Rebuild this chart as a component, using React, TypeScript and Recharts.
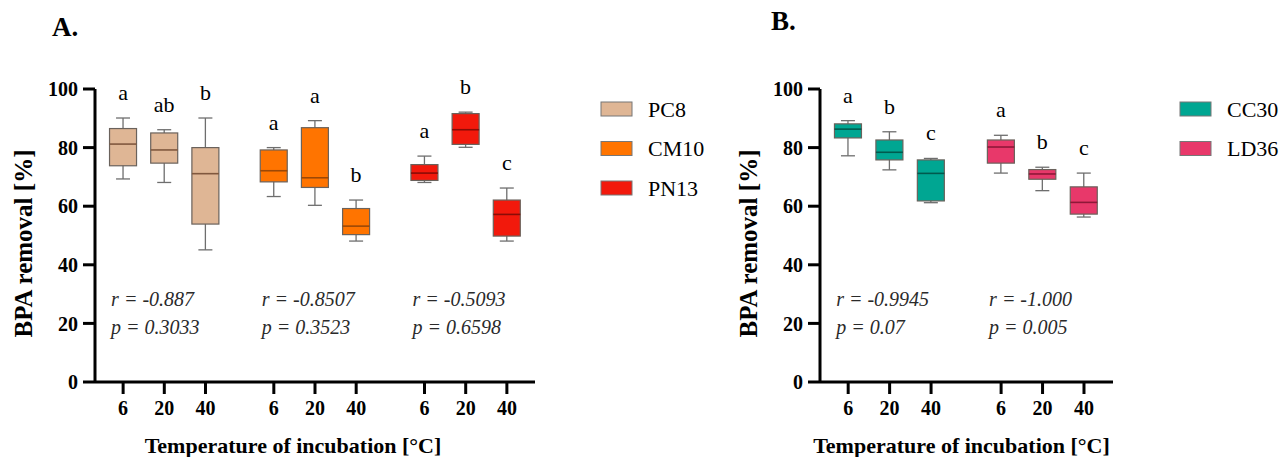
import { ComposedChart, Bar, Scatter, XAxis, YAxis, Label } from "recharts";

const FONT = "'Liberation Serif', 'DejaVu Serif', 'Times New Roman', Times, serif";

const temps = ["6", "20", "40"];

// Panel A
const strainsA = ["PC8", "CM10", "PN13"];
const fillA = ["#dfb695", "#ff7400", "#f2190c"];
const medianA = ["#80583e", "#9c4806", "#8a0c06"];
const minA = [69.3, 68.1, 45.1, 63.3, 60.3, 48.1, 68.1, 80.1, 48.1];
const q1A = [73.8, 74.7, 53.9, 68.3, 66.4, 50.3, 68.8, 81.1, 49.8];
const medA = [81.2, 79.2, 71.1, 72.1, 69.7, 53.2, 71.3, 86.1, 57.2];
const q3A = [86.5, 85.0, 80.0, 79.2, 86.8, 59.2, 74.2, 91.6, 62.1];
const maxA = [90.1, 86.1, 90.1, 80.0, 89.2, 62.1, 77.1, 92.1, 66.2];
const lettersA = ["a", "ab", "b", "a", "a", "b", "a", "b", "c"];
const rA = ["-0.887", "-0.8507", "-0.5093"];
const pA = ["0.3033", "0.3523", "0.6598"];

// Panel B
const strainsB = ["CC30", "LD36"];
const fillB = ["#00a692", "#e8386a"];
const medianB = ["#005a4e", "#8e1838"];
const minB = [77.2, 72.4, 61.2, 71.3, 65.3, 56.3];
const q1B = [83.3, 75.8, 61.8, 74.7, 69.2, 57.3];
const medB = [86.3, 78.4, 71.2, 80.2, 71.0, 61.3];
const q3B = [88.1, 82.6, 75.8, 82.6, 72.5, 66.6];
const maxB = [89.2, 85.4, 76.3, 84.2, 73.3, 71.3];
const lettersB = ["a", "b", "c", "a", "b", "c"];
const rB = ["-0.9945", "-1.000"];
const pB = ["0.07", "0.005"];

const yTicks = [0, 20, 40, 60, 80, 100];

type Row = {
  strain: string;
  group: number;
  temp: string;
  pos: number;
  min: number;
  q1: number;
  med: number;
  q3: number;
  max: number;
  letter: string;
};

function buildRows(
  strains: string[],
  step: number,
  mins: number[],
  q1s: number[],
  meds: number[],
  q3s: number[],
  maxs: number[],
  letters: string[]
): Row[] {
  const rows: Row[] = [];
  strains.forEach((s, g) => {
    temps.forEach((t, k) => {
      const i = g * temps.length + k;
      rows.push({
        strain: s,
        group: g,
        temp: t,
        pos: g * step + k,
        min: mins[i],
        q1: q1s[i],
        med: meds[i],
        q3: q3s[i],
        max: maxs[i],
        letter: letters[i],
      });
    });
  });
  return rows;
}

function buildNotes(strains: string[], step: number, rs: string[], ps: string[]) {
  return strains.map((s, g) => ({ pos: g * step, y: 26, r: rs[g], p: ps[g] }));
}

function BoxShape(props: any) {
  const { x, y, width, height, payload, fills, medians } = props;
  if (!payload || height == null) return null;
  const top = Math.min(y, y + height);
  const h = Math.abs(height);
  const { min, max, q1, q3, med, group, letter } = payload;
  const px = (v: number) => top + (h * (max - v)) / (max - min);
  const cx = x + width / 2;
  const cap = 7;
  return (
    <g>
      <line x1={cx} x2={cx} y1={px(max)} y2={px(min)} stroke="#6e6e6e" strokeWidth={1.3} />
      <line x1={cx - cap} x2={cx + cap} y1={px(max)} y2={px(max)} stroke="#6e6e6e" strokeWidth={1.3} />
      <line x1={cx - cap} x2={cx + cap} y1={px(min)} y2={px(min)} stroke="#6e6e6e" strokeWidth={1.3} />
      <rect
        x={x}
        y={px(q3)}
        width={width}
        height={px(q1) - px(q3)}
        fill={fills[group]}
        stroke="#6a625c"
        strokeWidth={1.2}
      />
      <line x1={x} x2={x + width} y1={px(med)} y2={px(med)} stroke={medians[group]} strokeWidth={1.6} />
      <text
        x={cx}
        y={px(max) - 18}
        textAnchor="middle"
        fontFamily={FONT}
        fontSize={22}
        fill="#000"
      >
        {letter}
      </text>
    </g>
  );
}

function NoteShape(props: any) {
  const { cx, cy, payload } = props;
  if (!payload) return null;
  const style = { fontFamily: FONT, fontSize: 20, fontStyle: "italic" as const, fill: "#2a2a2a" };
  return (
    <g>
      <text x={cx - 12} y={cy} {...style}>
        {`r = ${payload.r}`}
      </text>
      <text x={cx - 12} y={cy + 28} {...style}>
        {`p = ${payload.p}`}
      </text>
    </g>
  );
}

type PanelProps = {
  left: number;
  width: number;
  yAxisWidth: number;
  right: number;
  strains: string[];
  step: number;
  rows: Row[];
  notes: { pos: number; y: number; r: string; p: string }[];
  fills: string[];
  medians: string[];
  leftPad: number;
  rightPad: number;
  titleDx: number;
};

function Panel(p: PanelProps) {
  const n = p.strains.length;
  const lastPos = (n - 1) * p.step + temps.length - 1;
  const ticks = p.rows.map((r) => r.pos);
  return (
    <div style={{ position: "absolute", left: p.left, top: 0 }}>
      <ComposedChart
        width={p.width}
        height={457}
        data={p.rows}
        margin={{ top: 89, right: p.right, bottom: 14, left: 0 }}
      >
        <XAxis
          dataKey="pos"
          type="number"
          domain={[-p.leftPad, lastPos + p.rightPad]}
          ticks={ticks}
          tickFormatter={(_v: number, i: number) => temps[i % temps.length]}
          interval={0}
          height={61}
          axisLine={{ stroke: "#000", strokeWidth: 3 }}
          tickLine={{ stroke: "#000", strokeWidth: 3 }}
          tickSize={12}
          tickMargin={7}
          tick={{ fontFamily: FONT, fontSize: 20, fontWeight: "bold", fill: "#000" }}
        >
          <Label
            content={(lp: any) => {
              const vb = lp.viewBox || {};
              return (
                <text
                  x={vb.x + vb.width / 2 + p.titleDx}
                  y={vb.y + 71}
                  textAnchor="middle"
                  fontFamily={FONT}
                  fontSize={22}
                  fontWeight="bold"
                  fill="#000"
                >
                  Temperature of incubation [°C]
                </text>
              );
            }}
          />
        </XAxis>
        <YAxis
          type="number"
          domain={[0, 100]}
          ticks={yTicks}
          width={p.yAxisWidth}
          axisLine={{ stroke: "#000", strokeWidth: 3 }}
          tickLine={{ stroke: "#000", strokeWidth: 3 }}
          tickSize={12}
          tickMargin={5}
          tick={{ fontFamily: FONT, fontSize: 20, fontWeight: "bold", fill: "#000" }}
        >
          <Label
            content={(lp: any) => {
              const vb = lp.viewBox || {};
              const lx = vb.x + vb.width - 63;
              const ly = vb.y + vb.height / 2 + 8;
              return (
                <text
                  x={lx}
                  y={ly}
                  transform={`rotate(-90 ${lx} ${ly})`}
                  textAnchor="middle"
                  fontFamily={FONT}
                  fontSize={25}
                  fontWeight="bold"
                  fill="#000"
                >
                  BPA removal [%]
                </text>
              );
            }}
          />
        </YAxis>
        <Bar
          dataKey={(r: Row) => [r.min, r.max]}
          barSize={27}
          isAnimationActive={false}
          shape={(sp: any) => <BoxShape {...sp} fills={p.fills} medians={p.medians} />}
        />
        <Scatter
          data={p.notes}
          dataKey="y"
          isAnimationActive={false}
          shape={(sp: any) => <NoteShape {...sp} />}
        />
      </ComposedChart>
    </div>
  );
}

function Legend(props: { left: number; top: number; width: number; strains: string[]; fills: string[] }) {
  const pad = 12;
  return (
    <svg
      style={{ position: "absolute", left: props.left, top: props.top - pad }}
      width={props.width}
      height={props.strains.length * 40 + pad * 2}
    >
      {props.strains.map((s, i) => (
        <g key={s}>
          <rect
            x={1}
            y={pad + i * 39.5 + 1}
            width={31}
            height={14}
            fill={props.fills[i]}
            stroke="#777"
            strokeWidth={1}
          />
          <text x={48} y={pad + i * 39.5 + 15.5} fontFamily={FONT} fontSize={22} fill="#000">
            {s}
          </text>
        </g>
      ))}
    </svg>
  );
}

const STEP_A = 3.66;
const STEP_B = 3.69;
const rowsA = buildRows(strainsA, STEP_A, minA, q1A, medA, q3A, maxA, lettersA);
const rowsB = buildRows(strainsB, STEP_B, minB, q1B, medB, q3B, maxB, lettersB);
const notesA = buildNotes(strainsA, STEP_A, rA, pA);
const notesB = buildNotes(strainsB, STEP_B, rB, pB);

export default function App() {
  return (
    <div
      style={{
        position: "absolute",
        left: 0,
        top: 0,
        width: 1287,
        height: 457,
        background: "#fff",
        overflow: "hidden",
      }}
    >
      <div style={{ position: "absolute", left: 52, top: 12, fontFamily: FONT, fontSize: 27, fontWeight: "bold" }}>
        A.
      </div>
      <div style={{ position: "absolute", left: 771, top: 6, fontFamily: FONT, fontSize: 27, fontWeight: "bold" }}>
        B.
      </div>
      <Panel
        left={0}
        width={560}
        yAxisWidth={95}
        right={25}
        strains={strainsA}
        step={STEP_A}
        rows={rowsA}
        notes={notesA}
        fills={fillA}
        medians={medianA}
        leftPad={0.683}
        rightPad={0.683}
        titleDx={-22}
      />
      <Panel
        left={730}
        width={420}
        yAxisWidth={90}
        right={37}
        strains={strainsB}
        step={STEP_B}
        rows={rowsB}
        notes={notesB}
        fills={fillB}
        medians={medianB}
        leftPad={0.68}
        rightPad={0.7}
        titleDx={-5}
      />
      <Legend left={600} top={101} width={140} strains={strainsA} fills={fillA} />
      <Legend left={1179} top={101} width={108} strains={strainsB} fills={fillB} />
    </div>
  );
}
